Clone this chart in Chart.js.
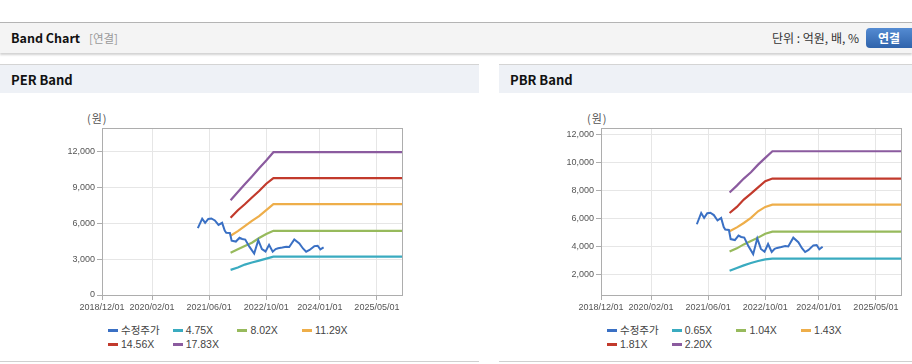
<!DOCTYPE html>
<html><head><meta charset="utf-8">
<script src="https://cdn.jsdelivr.net/npm/chart.js@4.4.1/dist/chart.umd.min.js"></script>
<style>
html,body{margin:0;padding:0;background:#fff;}
body{width:912px;height:364px;overflow:hidden;position:relative;font-family:'Noto Sans CJK KR','Liberation Sans',sans-serif;}
.abs{position:absolute;}
.topbar{left:0;top:22px;width:912px;height:30px;border-top:1px solid #b4b4b4;background:#f4f4f4;box-shadow:0 2px 2px rgba(0,0,0,0.18);}
.title{left:11px;top:29px;font-size:12.5px;font-weight:bold;color:#111;line-height:18px;}
.sub{left:89px;top:29px;font-size:11.5px;color:#999;line-height:18px;}
.unit{right:53px;top:29px;font-size:12px;color:#333;line-height:18px;}
.btn{left:866px;top:28px;width:54px;height:20px;border-radius:4px;background:linear-gradient(#548bd2,#2f63ab);color:#fff;font-weight:bold;font-size:12px;line-height:20px;text-indent:12px;}
.phead{top:64px;height:28px;border-top:1px solid #d4d4d4;background:#eef1f6;}
.ptitle{top:71px;font-size:13px;font-weight:bold;color:#111;line-height:18px;}
.pbottom{top:361px;height:0;border-top:1px solid #d0d0d0;}
.unitlbl{top:110px;font-size:11px;color:#555;letter-spacing:1px;}
.leg{font-family:'Liberation Sans','Noto Sans CJK KR',sans-serif;font-size:10.5px;color:#444;line-height:14px;white-space:nowrap;}
.leg i{display:inline-block;width:10px;height:3px;vertical-align:middle;margin-right:3px;position:relative;top:-1px;}
</style></head>
<body>
<div class="abs topbar"></div>
<div class="abs title">Band Chart</div>
<div class="abs sub">[연결]</div>
<div class="abs unit">단위 : 억원, 배, %</div>
<div class="abs btn">연결</div>

<div class="abs phead" style="left:0;width:479px"></div>
<div class="abs ptitle" style="left:11px">PER Band</div>
<div class="abs phead" style="left:499px;width:413px"></div>
<div class="abs ptitle" style="left:510px">PBR Band</div>

<div class="abs unitlbl" style="left:87px">(원)</div>
<div class="abs unitlbl" style="left:587px">(원)</div>

<canvas id="per" class="abs" style="left:0;top:93px" width="479" height="230"></canvas>
<canvas id="pbr" class="abs" style="left:499px;top:93px" width="413" height="230"></canvas>
<div id="perLeg"></div>
<div id="pbrLeg"></div>

<div class="abs pbottom" style="left:0;width:479px"></div>
<div class="abs pbottom" style="left:499px;width:413px"></div>

<script>
// ---- data ----
const xTickLabels = ['2018/12/01','2020/02/01','2021/06/01','2022/10/01','2024/01/01','2025/05/01'];
const xStart = '2018-12-01';
const xEnd = '2025-12-01';

const priceLabel = '수정주가';
const priceDates = ['2021-02-25','2021-04-03','2021-04-28','2021-05-25','2021-06-20','2021-07-20','2021-08-20','2021-09-20',
  '2021-10-12','2021-10-25','2021-11-25','2021-12-10','2022-01-15','2022-02-15','2022-03-10','2022-04-05','2022-05-10',
  '2022-06-20','2022-07-25','2022-08-25','2022-09-25','2022-10-25','2022-11-25','2022-12-20','2023-01-10','2023-02-15',
  '2023-03-20','2023-04-15','2023-05-28','2023-07-10','2023-08-10','2023-09-06','2023-10-05','2023-11-15','2023-12-13',
  '2024-01-05','2024-02-02'];
const priceValues = [5600,6400,6050,6380,6420,6250,5870,6050,
  5400,5220,5200,4550,4480,4800,4700,4650,4050,
  3480,4600,3850,3650,4200,3630,3850,3920,3980,
  4050,4020,4650,4330,3900,3630,3780,4100,4130,
  3830,4000];

const bandDates = ['2021-12-01','2022-02-01','2022-04-01','2022-06-01','2022-08-01','2022-10-01','2022-12-01','2025-12-01'];

const perBandLabels = ['4.75X','8.02X','11.29X','14.56X','17.83X'];
const per475  = [2110,2300,2550,2720,2880,3050,3220,3220];
const per802  = [3550,3830,4110,4380,4780,5110,5380,5380];
const per1129 = [4970,5360,5780,6220,6610,7110,7610,7610];
const per1456 = [6470,7110,7610,8170,8720,9330,9800,9800];
const per1783 = [7940,8630,9280,9940,10630,11280,11970,11970];

const pbrBandLabels = ['0.65X','1.04X','1.43X','1.81X','2.20X'];
const pbr065 = [2300,2500,2680,2850,2990,3110,3160,3160];
const pbr104 = [3660,3890,4170,4410,4650,4930,5080,5080];
const pbr143 = [5100,5380,5690,6050,6520,6830,6990,6990];
const pbr181 = [6400,6830,7350,7770,8220,8650,8840,8840];
const pbr220 = [7850,8340,8840,9290,9830,10310,10780,10780];

const perYTicks = [0,3000,6000,9000,12000];
const perYMin = 0, perYMax = 14000;
const pbrYTicks = [2000,4000,6000,8000,10000,12000];
const pbrYMin = 580, pbrYMax = 12430;

const seriesColors = ['#3a70c4','#3aabc0','#97ba5c','#eeae4a','#c23a2c','#8b5b9f'];

// ---- helpers ----
function day(s){
  return (Date.parse(s.replace(/\//g,'-')+'T00:00:00Z') - Date.parse(xStart+'T00:00:00Z'))/86400000;
}
function pts(dates, vals){ return dates.map((d,i)=>({x:day(d), y:vals[i]})); }

const boxPlugin = {
  id:'plotBox',
  beforeDatasetsDraw(chart){
    const a = chart.chartArea, c = chart.ctx;
    c.save(); c.strokeStyle='#adadad'; c.lineWidth=1;
    c.strokeRect(Math.round(a.left)+0.5, Math.round(a.top)+0.5, Math.round(a.right-a.left), Math.round(a.bottom-a.top));
    c.restore();
  }
};

function makeChart(id, bandLabels, bands, yMin, yMax, yTicks, padRight, legId, legLeft){
  const datasets = [{label:priceLabel, data:pts(priceDates, priceValues), borderColor:seriesColors[0], borderWidth:2}];
  bands.forEach((b,i)=>datasets.push({label:bandLabels[i], data:pts(bandDates,b), borderColor:seriesColors[i+1], borderWidth:2.2}));
  datasets.forEach(d=>{d.pointRadius=0; d.tension=0; d.fill=false; d.backgroundColor=d.borderColor;});
  const tickFont = {family:"'Liberation Sans', Arial, sans-serif", size:9};
  const chart = new Chart(document.getElementById(id), {
    type:'line',
    data:{datasets},
    options:{
      responsive:false, animation:false,
      layout:{padding:{left:0,right:padRight,top:35,bottom:8}},
      plugins:{legend:{display:false}, tooltip:{enabled:false}},
      scales:{
        x:{type:'linear', min:0, max:day(xEnd),
          afterBuildTicks:s=>{s.ticks = xTickLabels.map(l=>({value:day(l)}));},
          afterFit:s=>{s.height=20;},
          ticks:{autoSkip:false, maxRotation:0, minRotation:0, font:tickFont, color:'#555', padding:2,
            callback:(v,i)=>xTickLabels[i]},
          grid:{color:'#e6e6e6', tickColor:'#adadad', tickLength:5},
          border:{color:'#adadad'}
        },
        y:{min:yMin, max:yMax,
          afterBuildTicks:s=>{s.ticks = yTicks.map(v=>({value:v}));},
          afterFit:s=>{s.width=102;},
          ticks:{font:tickFont, color:'#555', padding:2, callback:v=>Number(v).toLocaleString('en-US')},
          grid:{color:'#e6e6e6', tickColor:'#adadad', tickLength:5},
          border:{color:'#adadad'}
        }
      }
    },
    plugins:[boxPlugin]
  });
  // HTML legend built from datasets
  const leg = document.getElementById(legId);
  chart.data.datasets.forEach((d,i)=>{
    const el = document.createElement('div');
    el.className='abs leg';
    el.style.left = (legLeft + (i%4)*64.7) + 'px';
    el.style.top = (i<4 ? 323 : 337) + 'px';
    el.innerHTML = '<i style="background:'+d.borderColor+'"></i>'+d.label;
    leg.appendChild(el);
  });
  return chart;
}

makeChart('per', perBandLabels, [per475,per802,per1129,per1456,per1783], perYMin, perYMax, perYTicks, 77, 'perLeg', 108);
makeChart('pbr', pbrBandLabels, [pbr065,pbr104,pbr143,pbr181,pbr220], pbrYMin, pbrYMax, pbrYTicks, 11, 'pbrLeg', 607);
</script>
</body></html>
